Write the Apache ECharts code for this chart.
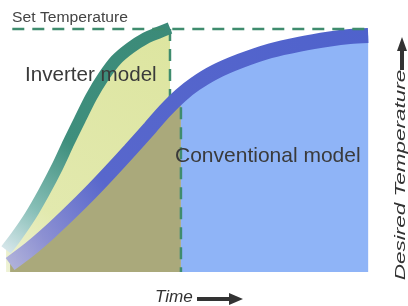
<!DOCTYPE html>
<html>
<head>
<meta charset="utf-8">
<script src="https://cdn.jsdelivr.net/npm/echarts/dist/echarts.min.js"></script>
<style>
html, body { margin: 0; padding: 0; background: #fff; }
#main { width: 408px; height: 306px; }
</style>
</head>
<body>
<div id="main"></div>
<script>
// time (0..100) and temperature (set temperature = 100)
const inverterTime = [0.3, 3.0, 6.9, 10.7, 14.3, 17.5, 20.6, 23.6, 26.9, 30.4, 34.3, 38.6, 41.9, 45.2];
const inverterTemp = [9.1, 14.4, 23.0, 32.9, 43.2, 53.5, 63.0, 72.0, 80.2, 87.2, 92.2, 96.3, 98.4, 100.4];

const conventionalTime = [1.4, 6.9, 12.3, 17.8, 23.3, 28.8, 34.3, 39.7, 43.8, 48.2, 52.1, 57.5, 64.4, 72.6, 80.8, 89.0, 94.5, 99.5];
const conventionalTemp = [3.3, 9.5, 16.5, 24.3, 32.5, 41.2, 50.2, 59.3, 66.3, 72.8, 77.4, 82.3, 86.8, 91.0, 93.8, 95.9, 96.9, 97.3];

const setTemp = 100;
const setLineTime = [2, 99.5];
// inverter reaches set point / conventional split (two dashed segments)
const switchTime = [45.2, 48.2];

const labels = {
  set: 'Set Temperature',
  inverter: 'Inverter model',
  conventional: 'Conventional model',
  xName: 'Time',
  yName: 'Desired Temperature'
};

const pairs = (ts, vs) => ts.map((t, i) => [t, vs[i]]);
const inverter = pairs(inverterTime, inverterTemp);
const conventional = pairs(conventionalTime, conventionalTemp);
const convLeft = conventional.filter(p => p[0] <= switchTime[1]);
const convRight = conventional.filter(p => p[0] >= switchTime[1]);

const G = echarts.graphic;
const grad = (stops) => new G.LinearGradient(0, 1, 1, 0, stops.map(s => ({ offset: s[0], color: s[1] })));
const curve = { smooth: 0.3, symbol: 'none' };

const chart = echarts.init(document.getElementById('main'), null, { renderer: 'canvas' });

const option = {
  animation: false,
  grid: { left: 5, right: 38, top: 4.7, bottom: 34 },
  xAxis: { type: 'value', min: 0, max: 100, show: false },
  yAxis: { type: 'value', min: 0, max: 110, show: false },
  series: [
    {
      // yellow fill under inverter curve
      type: 'line', data: inverter, ...curve, z: 1,
      lineStyle: { width: 0 },
      areaStyle: { opacity: 1, color: grad([[0, '#eef2d6'], [0.25, '#e2e9ae'], [1, '#dde5a0']]) }
    },
    {
      type: 'line', data: convLeft, ...curve, z: 2,
      lineStyle: { width: 0 },
      areaStyle: { opacity: 1, color: '#aaa97b' }
    },
    {
      type: 'line', data: convRight, ...curve, z: 2,
      lineStyle: { width: 0 },
      areaStyle: { opacity: 1, color: '#8fb4f7' }
    },
    {
      // vertical dashed line where the inverter reaches set temperature
      type: 'line', symbol: 'none', z: 3, connectNulls: false,
      data: [[switchTime[0], setTemp], [switchTime[0], 68], ['-', '-'], [switchTime[1], 76], [switchTime[1], 0]],
      lineStyle: { color: '#3f8c6e', width: 2.5, type: [12, 8] }
    },
    {
      type: 'line', data: inverter, ...curve, z: 5,
      lineStyle: {
        width: 12, cap: 'butt',
        color: grad([[0, '#e2ecf2'], [0.2, '#86beb6'], [0.45, '#3f8f7d'], [1, '#3b8a78']])
      }
    },
    {
      type: 'line', data: conventional, ...curve, z: 5,
      lineStyle: {
        width: 15, cap: 'butt',
        color: grad([[0, '#b8b9dc'], [0.12, '#8c90d2'], [0.3, '#5867cc'], [1, '#4f62cc']])
      }
    },
    {
      // set temperature line
      type: 'line', symbol: 'none', z: 6,
      data: setLineTime.map(t => [t, setTemp]),
      lineStyle: { color: '#3f8c6e', width: 2.5, type: [12, 8] }
    }
  ],
  graphic: [
    {
      type: 'text', x: 12, y: 18, scaleX: 1.12, z: 100,
      style: { text: labels.set, font: '14px "Liberation Sans", Arial, sans-serif', fill: '#444', textVerticalAlign: 'middle' }
    },
    {
      type: 'text', x: 25, y: 75, scaleX: 1.03, z: 100,
      style: { text: labels.inverter, font: '20px "Liberation Sans", Arial, sans-serif', fill: '#3a3a3a', textVerticalAlign: 'middle' }
    },
    {
      type: 'text', x: 175, y: 156, scaleX: 1.0, z: 100,
      style: { text: labels.conventional, font: '21px "Liberation Sans", Arial, sans-serif', fill: '#3a3a3a', textVerticalAlign: 'middle' }
    },
    {
      type: 'text', x: 155, y: 298, scaleX: 1.07, z: 100,
      style: { text: labels.xName, font: 'italic 16px "Liberation Sans", Arial, sans-serif', fill: '#333', textVerticalAlign: 'middle' }
    },
    {
      type: 'polygon', z: 100,
      shape: { points: [[197, 297], [229, 297], [229, 293], [243, 299], [229, 305], [229, 301], [197, 301]] },
      style: { fill: '#333' }
    },
    {
      type: 'text', x: 401, y: 175, rotation: Math.PI / 2, scaleX: 1.5, z: 100,
      style: { text: labels.yName, font: 'italic 15px "Liberation Sans", Arial, sans-serif', fill: '#333', textAlign: 'center', textVerticalAlign: 'middle' }
    },
    {
      type: 'polygon', z: 100,
      shape: { points: [[400, 70], [400, 51], [397, 51], [402, 37], [407, 51], [404, 51], [404, 70]] },
      style: { fill: '#333' }
    }
  ]
};

chart.setOption(option);
</script>
</body>
</html>
